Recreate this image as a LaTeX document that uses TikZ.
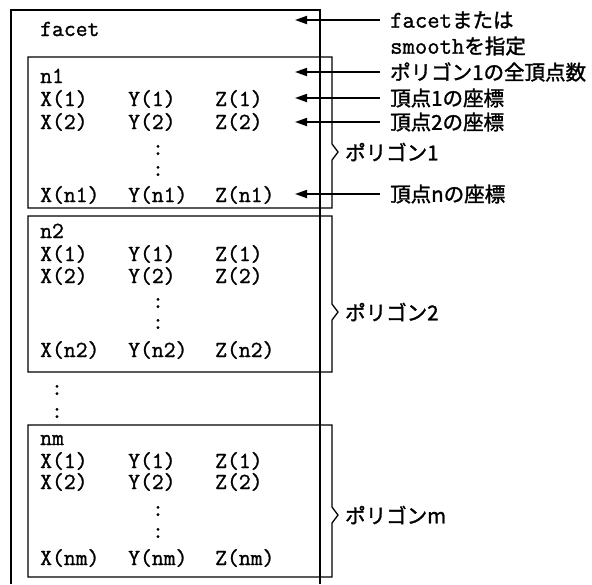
\documentclass[tikz,border=0pt]{standalone}
\usepackage{fontspec}
\setmonofont[FakeBold=1.2]{Latin Modern Mono}
\newfontfamily\jp[FakeBold=1.5]{Noto Sans CJK JP}
\usetikzlibrary{arrows.meta}
\begin{document}
\begin{tikzpicture}[x=1pt,y=-1pt,
  tt/.style={font=\ttfamily\fontsize{23}{23}\selectfont, anchor=base west, inner sep=0pt},
  dotn/.style={font=\ttfamily\fontsize{23}{23}\selectfont, anchor=base, inner sep=0pt},
  jl/.style={font=\jp\fontsize{20.5}{24}\selectfont, anchor=west, inner sep=0pt},
  outerline/.style={line width=2.2pt},
  innerline/.style={line width=1.3pt, black},
  arr/.style={line width=1.8pt, -{Triangle[length=12pt,width=8pt]}}]
\useasboundingbox (0,0) rectangle (592,584);
\coordinate (tip) at (295,0);

% polygon boxes
\draw[innerline] (28,57) -- (332,57) -- (332,144) -- (338,152) -- (332,160) -- (332,208) -- (28,208) -- cycle;
\draw[innerline] (28,216) -- (332,216) -- (332,304) -- (338,312) -- (332,320) -- (332,372) -- (28,372) -- cycle;
\draw[innerline] (28,425) -- (332,425) -- (332,507) -- (338,515) -- (332,523) -- (332,577) -- (28,577) -- cycle;

% outer frame
\draw[outerline] (11,584) -- (11,10) -- (320,10) -- (320,584);

\node[tt] (facet) at (40,36) {facet};

% box 1
\node[tt] (n1) at (40,83) {n1};
\node[tt] (ax1) at (40,106) {X(1)};
\node[tt] (ay1) at (128,106) {Y(1)};
\node[tt] (az1) at (215,106) {Z(1)};
\node[tt] (ax2) at (40,129) {X(2)};
\node[tt] (ay2) at (128,129) {Y(2)};
\node[tt] (az2) at (215,129) {Z(2)};
\node[dotn] (ad1) at (158,155) {:};
\node[dotn] (ad2) at (158,176) {:};
\node[tt] (axn) at (40,202) {X(n1)};
\node[tt] (ayn) at (128,202) {Y(n1)};
\node[tt] (azn) at (215,202) {Z(n1)};

% box 2
\node[tt] (n2) at (40,238) {n2};
\node[tt] (bx1) at (40,261) {X(1)};
\node[tt] (by1) at (128,261) {Y(1)};
\node[tt] (bz1) at (215,261) {Z(1)};
\node[tt] (bx2) at (40,283) {X(2)};
\node[tt] (by2) at (128,283) {Y(2)};
\node[tt] (bz2) at (215,283) {Z(2)};
\node[dotn] (bd1) at (158,308) {:};
\node[dotn] (bd2) at (158,329) {:};
\node[tt] (bxn) at (40,357) {X(n2)};
\node[tt] (byn) at (128,357) {Y(n2)};
\node[tt] (bzn) at (215,357) {Z(n2)};

% between
\node[dotn] (md1) at (57,395) {:};
\node[dotn] (md2) at (57,418) {:};

% box 3
\node[tt] (nm) at (40,445) {nm};
\node[tt] (cx1) at (40,468) {X(1)};
\node[tt] (cy1) at (128,468) {Y(1)};
\node[tt] (cz1) at (215,468) {Z(1)};
\node[tt] (cx2) at (40,489) {X(2)};
\node[tt] (cy2) at (128,489) {Y(2)};
\node[tt] (cz2) at (215,489) {Z(2)};
\node[dotn] (cd1) at (158,516) {:};
\node[dotn] (cd2) at (158,538) {:};
\node[tt] (cxn) at (40,565) {X(nm)};
\node[tt] (cyn) at (128,565) {Y(nm)};
\node[tt] (czn) at (215,565) {Z(nm)};

% right labels
\node[jl] (lfacet) at (390,20) {{\ttfamily\fontsize{24}{24}\selectfont facet}または};
\node[jl] (lsmooth) at (390,46) {{\ttfamily\fontsize{24}{24}\selectfont smooth}を指定};
\node[jl] (lnum) at (390,72) {ポリゴン1の全頂点数};
\node[jl] (lv1) at (390,98) {頂点1の座標};
\node[jl] (lv2) at (390,122) {頂点2の座標};
\node[jl] (lvn) at (390,194) {頂点nの座標};

\node[jl] (p1) at (345,152) {ポリゴン1};
\node[jl] (p2) at (345,312) {ポリゴン2};
\node[jl] (pm) at (345,515) {ポリゴンm};

% arrows
\draw[arr] ([xshift=-10pt]lfacet.west) -- (lfacet.west -| tip);
\draw[arr] ([xshift=-10pt]lnum.west) -- (lnum.west -| tip);
\draw[arr] ([xshift=-10pt]lv1.west) -- (lv1.west -| tip);
\draw[arr] ([xshift=-10pt]lv2.west) -- (lv2.west -| tip);
\draw[arr] ([xshift=-10pt]lvn.west) -- (lvn.west -| tip);
\end{tikzpicture}
\end{document}
